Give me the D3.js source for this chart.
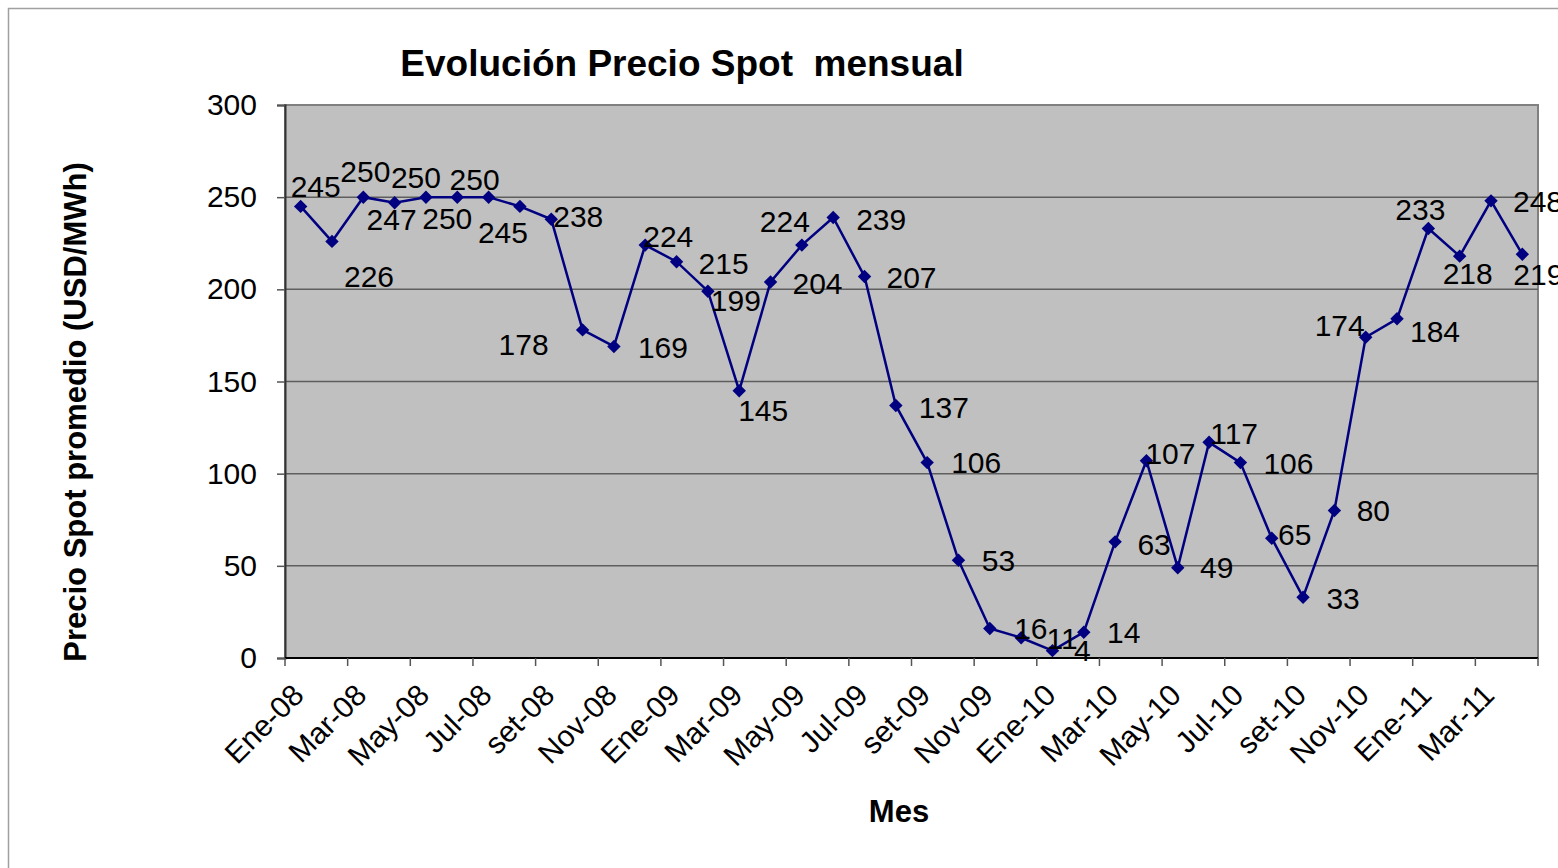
<!DOCTYPE html>
<html>
<head>
<meta charset="UTF-8">
<title>Evolución Precio Spot mensual</title>
<script src="https://d3js.org/d3.v7.min.js"></script>
<style>
  * { margin: 0; padding: 0; }
  body { background: #fff; width: 1558px; height: 868px; overflow: hidden; }
  svg text { font-family: 'Liberation Sans', Arial, sans-serif; fill: #000; }
</style>
</head>
<body>
<svg id="chart" width="1558" height="868"></svg>
<script>
// meses (Ene-08 .. Abr-11)
const months = [
  'Ene-08','Feb-08','Mar-08','Abr-08','May-08','Jun-08','Jul-08','Ago-08','set-08','Oct-08','Nov-08','Dic-08',
  'Ene-09','Feb-09','Mar-09','Abr-09','May-09','Jun-09','Jul-09','Ago-09','set-09','Oct-09','Nov-09','Dic-09',
  'Ene-10','Feb-10','Mar-10','Abr-10','May-10','Jun-10','Jul-10','Ago-10','set-10','Oct-10','Nov-10','Dic-10',
  'Ene-11','Feb-11','Mar-11','Abr-11'
];

// precio spot promedio (USD/MWh)
const prices = [
  245, 226, 250, 247, 250, 250, 250, 245, 238, 178, 169, 224,
  215, 199, 145, 204, 224, 239, 207, 137, 106, 53, 16, 11,
  4, 14, 63, 107, 49, 117, 106, 65, 33, 80, 174, 184,
  233, 218, 248, 219
];

const yTicks = [0, 50, 100, 150, 200, 250, 300];

// desplazamiento de cada etiqueta de dato respecto a su punto (centro del texto)
const labelOffsets = [
  [15,-20],[37,35],[2,-26],[-3,17],[-10,-20],[-10,21],[-14,-18],[-17,26],[27,-3],[-59,14],[49,1],[23,-9],
  [47,2],[28,9],[24,20],[47,1],[-17,-24],[48,2],[47,1],[48,2],[49,0],[40,0],[41,0],[41,1],
  [30,0],[40,0],[39,2],[24,-7],[39,0],[25,-9],[48,1],[23,-4],[40,1],[39,0],[-26,-12],[38,12],
  [-8,-19.5],[8,17],[47,0],[16,20]
];

const svg = d3.select('#chart');
const plot = { left: 285, right: 1538, top: 105, bottom: 658 };

const x = d3.scaleBand().domain(months).range([plot.left, plot.right]).padding(0);
const y = d3.scaleLinear().domain([0, 300]).range([plot.bottom, plot.top]);

// borde exterior del gráfico
svg.append('rect')
  .attr('x', 8.5).attr('y', 8.5).attr('width', 1600).attr('height', 900)
  .attr('fill', 'none').attr('stroke', '#a0a0a0').attr('stroke-width', 1.5);

// área de trazado
svg.append('rect')
  .attr('x', plot.left).attr('y', plot.top)
  .attr('width', plot.right - plot.left).attr('height', plot.bottom - plot.top)
  .attr('fill', '#c0c0c0').attr('stroke', '#808080').attr('stroke-width', 2);

// líneas de división
svg.append('g')
  .selectAll('line')
  .data(yTicks.filter(t => t > 0 && t < 300))
  .enter().append('line')
  .attr('x1', plot.left).attr('x2', plot.right)
  .attr('y1', d => y(d)).attr('y2', d => y(d))
  .attr('stroke', '#5e5e5e').attr('stroke-width', 1.5);

// eje Y
const yAxis = svg.append('g')
  .attr('transform', `translate(${plot.left},0)`)
  .call(d3.axisLeft(y).tickValues(yTicks).tickSize(8).tickPadding(20));
yAxis.select('.domain').attr('stroke', '#333').attr('stroke-width', 2);
yAxis.selectAll('.tick line').attr('stroke', '#555').attr('stroke-width', 1.5);
yAxis.selectAll('.tick text')
  .attr('font-size', 30).attr('font-family', "'Liberation Sans', Arial, sans-serif")
  .attr('fill', '#000');

// eje X
svg.append('line')
  .attr('x1', plot.left).attr('x2', plot.right)
  .attr('y1', plot.bottom).attr('y2', plot.bottom)
  .attr('stroke', '#000').attr('stroke-width', 2);

const tickPos = months.filter((m, i) => i % 2 === 0).map(m => x(m)).concat([plot.right]);
svg.append('g')
  .selectAll('line')
  .data(tickPos)
  .enter().append('line')
  .attr('x1', d => d).attr('x2', d => d)
  .attr('y1', plot.bottom).attr('y2', plot.bottom + 8)
  .attr('stroke', '#555').attr('stroke-width', 1.5);

svg.append('g')
  .selectAll('text')
  .data(months.filter((m, i) => i % 2 === 0))
  .enter().append('text')
  .attr('transform', d => `translate(${x(d) + x.bandwidth() / 2 + 5},${plot.bottom + 39}) rotate(-45)`)
  .attr('text-anchor', 'end')
  .attr('font-size', 30)
  .text(d => d);

// línea de datos
const pts = months.map((m, i) => ({ m, v: prices[i], off: labelOffsets[i] }));

svg.append('path')
  .datum(pts)
  .attr('fill', 'none')
  .attr('stroke', '#000080')
  .attr('stroke-width', 2.5)
  .attr('d', d3.line().x(d => x(d.m) + x.bandwidth() / 2).y(d => y(d.v)));

svg.append('g')
  .selectAll('path')
  .data(pts)
  .enter().append('path')
  .attr('d', d3.symbol(d3.symbolSquare).size(90))
  .attr('transform', d => `translate(${x(d.m) + x.bandwidth() / 2},${y(d.v)}) rotate(45)`)
  .attr('fill', '#000080');

// etiquetas de datos
svg.append('g')
  .selectAll('text')
  .data(pts)
  .enter().append('text')
  .attr('x', d => x(d.m) + x.bandwidth() / 2 + d.off[0])
  .attr('y', d => y(d.v) + d.off[1] + 10.7)
  .attr('text-anchor', 'middle')
  .attr('font-size', 30)
  .text(d => d.v);

// títulos
svg.append('text')
  .attr('x', 682).attr('y', 76)
  .attr('text-anchor', 'middle')
  .attr('font-size', 37).attr('font-weight', 'bold')
  .style('white-space', 'pre')
  .text('Evolución Precio Spot  mensual');

svg.append('text')
  .attr('transform', 'translate(86,412) rotate(-90)')
  .attr('text-anchor', 'middle')
  .attr('font-size', 31).attr('font-weight', 'bold')
  .text('Precio Spot promedio (USD/MWh)');

svg.append('text')
  .attr('x', 899).attr('y', 822)
  .attr('text-anchor', 'middle')
  .attr('font-size', 31).attr('font-weight', 'bold')
  .text('Mes');
</script>
</body>
</html>
